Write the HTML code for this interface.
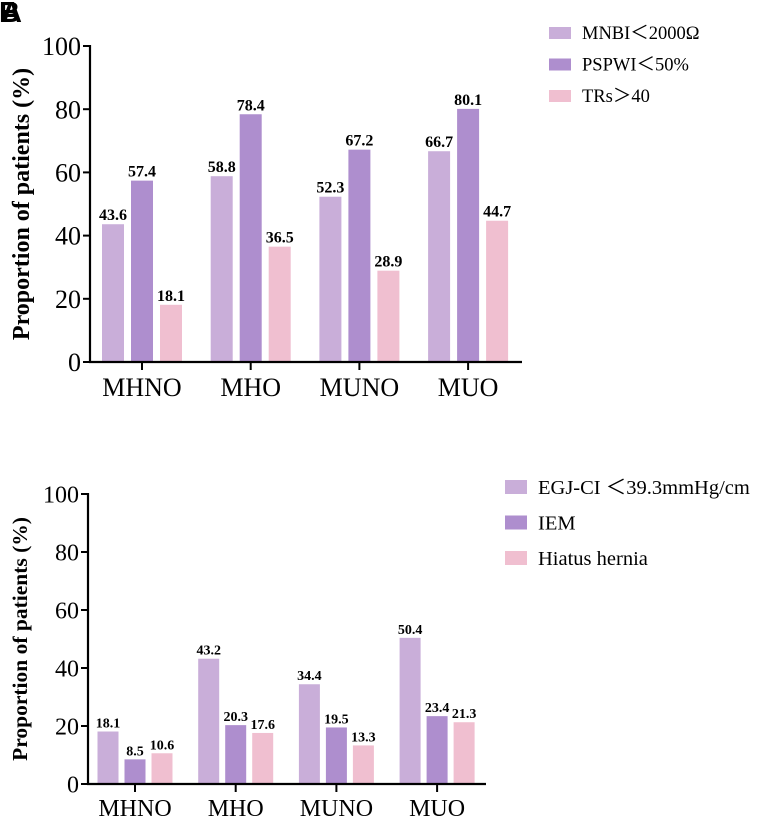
<!DOCTYPE html>
<html><head><meta charset="utf-8"><style>
html,body{margin:0;padding:0;background:#fff;}
svg{display:block;font-family:"Liberation Serif",serif;}
</style></head><body>
<svg id="c" width="761" height="822" xmlns="http://www.w3.org/2000/svg">
<text x="-1" y="22" font-family="Liberation Sans,sans-serif" font-weight="bold" font-size="29">B</text>
<text x="1" y="22" font-family="Liberation Sans,sans-serif" font-weight="bold" font-size="29">A</text>
</svg>
<script>
const categories = ["MHNO","MHO","MUNO","MUO"];
const seriesA1 = [43.6,58.8,52.3,66.7];
const seriesA2 = [57.4,78.4,67.2,80.1];
const seriesA3 = [18.1,36.5,28.9,44.7];
const seriesB1 = [18.1,43.2,34.4,50.4];
const seriesB2 = [8.5,20.3,19.5,23.4];
const seriesB3 = [10.6,17.6,13.3,21.3];
const legendA = ["MNBI＜2000Ω","PSPWI＜50%","TRs＞40"];
const legendB = ["EGJ-CI ＜39.3mmHg/cm","IEM","Hiatus hernia"];
const yTicks = [0,20,40,60,80,100];
const colors = ["#c9aed9","#ae8ece","#f0bfd0"];
const svg = document.getElementById('c');
const NS = "http://www.w3.org/2000/svg";
function mk(tag, attrs, txt){
  const e = document.createElementNS(NS, tag);
  for (const k in attrs) e.setAttribute(k, attrs[k]);
  if (txt !== undefined) e.textContent = txt;
  svg.appendChild(e);
  return e;
}
function chart(p){
  const y = v => p.y0 - (v/100)*(p.y0 - p.y100);
  const cx = i => p.c0 + i*p.gs;
  p.series.forEach((s, si) => {
    s.forEach((v, i) => {
      const x = cx(i) + (si-1)*p.step - p.bw/2;
      const r = mk('rect', {x:x, y:y(v), width:p.bw, height:p.y0 - y(v), fill:colors[si]});
      
      
      const t = mk('text', {x:x + p.bw/2, y:y(v) - 4, 'text-anchor':'middle', 'font-weight':'bold', 'font-size':p.vf}, v.toFixed(1));
      
      
    });
  });
  const ya = mk('line', {x1:p.ax, y1:p.y100 - 1, x2:p.ax, y2:p.y0 + 1, stroke:'#000', 'stroke-width':2.2});
  
  
  const xa = mk('line', {x1:p.ax - 1, y1:p.y0, x2:p.xend, y2:p.y0, stroke:'#000', 'stroke-width':2.2});
  
  
  yTicks.forEach(v => {
    mk('line', {x1:p.ax - 7, y1:y(v), x2:p.ax, y2:y(v), stroke:'#000', 'stroke-width':2});
    const t = mk('text', {x:p.ax - 9, y:y(v) + p.tf*0.35, 'text-anchor':'end', 'font-size':p.tf}, String(v));
    
    
  });
  categories.forEach((c, i) => {
    mk('line', {x1:cx(i), y1:p.y0, x2:cx(i), y2:p.y0 + 8, stroke:'#000', 'stroke-width':2});
    const t = mk('text', {x:cx(i), y:p.y0 + 8 + p.xf, 'text-anchor':'middle', 'font-size':p.xf}, c);
    
    
  });
  const ty = (p.y0 + p.y100)/2;
  const tt = mk('text', {x:0, y:0, transform:'translate(' + p.tx + ',' + ty + ') rotate(-90)', 'text-anchor':'middle', 'font-weight':'bold', 'font-size':p.tt}, 'Proportion of patients (%)');
  
  
  p.legend.forEach((l, i) => {
    const ly = p.ly + i*p.lgap;
    const r = mk('rect', {x:p.lx, y:ly - p.sh/2, width:p.sw, height:p.sh, fill:colors[i]});
    
    
    const t = mk('text', {x:p.lx + p.sw + 11, y:ly + p.lf*0.33, 'font-size':p.lf}, l);
    
    
  });
}
chart({id:'chart-a', series:[seriesA1,seriesA2,seriesA3], legend:legendA,
  y0:362, y100:46, ax:90, xend:522, c0:142, gs:108.7, step:29, bw:22, vf:16, tf:26, xf:26, tt:24, tx:29,
  lx:549, ly:33, lgap:31.5, sw:22, sh:12, lf:18.5});
chart({id:'chart-b', series:[seriesB1,seriesB2,seriesB3], legend:legendB,
  y0:784, y100:494, ax:88, xend:486, c0:135, gs:100.7, step:27, bw:21, vf:14, tf:24, xf:24, tt:21.5, tx:27,
  lx:505, ly:487, lgap:35.5, sw:22, sh:14, lf:20.5});
</script>
</body></html>
